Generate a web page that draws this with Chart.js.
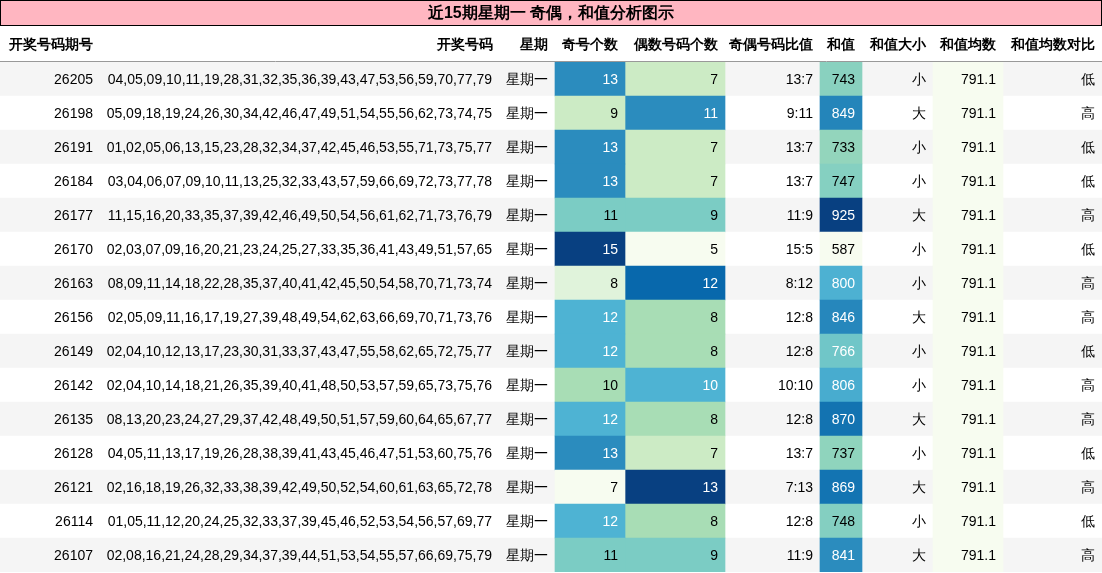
<!DOCTYPE html>
<html><head><meta charset="utf-8">
<script src="https://cdn.jsdelivr.net/npm/chart.js@4"></script>
<style>html,body{margin:0;padding:0;background:#fff}#w{width:1102px;height:573px}</style>
</head><body><div id="w"><canvas id="c"></canvas></div>
<script>
const title = "近15期星期一 奇偶，和值分析图示";
const headers = ["开奖号码期号","开奖号码","星期","奇号个数","偶数号码个数","奇偶号码比值","和值","和值大小","和值均数","和值均数对比"];
const colEdges = [0,100,500,555,625,725,820,862,933,1003,1102];
const periods = ["26205","26198","26191","26184","26177","26170","26163","26156","26149","26142","26135","26128","26121","26114","26107"];
const numbers = [
"04,05,09,10,11,19,28,31,32,35,36,39,43,47,53,56,59,70,77,79",
"05,09,18,19,24,26,30,34,42,46,47,49,51,54,55,56,62,73,74,75",
"01,02,05,06,13,15,23,28,32,34,37,42,45,46,53,55,71,73,75,77",
"03,04,06,07,09,10,11,13,25,32,33,43,57,59,66,69,72,73,77,78",
"11,15,16,20,33,35,37,39,42,46,49,50,54,56,61,62,71,73,76,79",
"02,03,07,09,16,20,21,23,24,25,27,33,35,36,41,43,49,51,57,65",
"08,09,11,14,18,22,28,35,37,40,41,42,45,50,54,58,70,71,73,74",
"02,05,09,11,16,17,19,27,39,48,49,54,62,63,66,69,70,71,73,76",
"02,04,10,12,13,17,23,30,31,33,37,43,47,55,58,62,65,72,75,77",
"02,04,10,14,18,21,26,35,39,40,41,48,50,53,57,59,65,73,75,76",
"08,13,20,23,24,27,29,37,42,48,49,50,51,57,59,60,64,65,67,77",
"04,05,11,13,17,19,26,28,38,39,41,43,45,46,47,51,53,60,75,76",
"02,16,18,19,26,32,33,38,39,42,49,50,52,54,60,61,63,65,72,78",
"01,05,11,12,20,24,25,32,33,37,39,45,46,52,53,54,56,57,69,77",
"02,08,16,21,24,28,29,34,37,39,44,51,53,54,55,57,66,69,75,79"];
const weekday = "星期一";
const oddCounts = [13,9,13,13,11,15,8,12,12,10,12,13,7,12,11];
const evenCounts = [7,11,7,7,9,5,12,8,8,10,8,7,13,8,9];
const sums = [743,849,733,747,925,587,800,846,766,806,870,737,869,748,841];
const sizes = ["小","大","小","小","大","小","小","大","小","小","大","小","大","小","大"];
const avg = 791.1;
const compare = ["低","高","低","低","高","低","高","高","低","高","高","低","高","低","高"];

const GnBu = ["#f7fcf0","#e0f3db","#ccebc5","#a8ddb5","#7bccc4","#4eb3d3","#2b8cbe","#0868ac","#084081"];
function hex(h){return [1,3,5].map(i=>parseInt(h.substr(i,2),16));}
function cmap(t){t=Math.max(0,Math.min(1,t));const p=t*(GnBu.length-1),i=Math.min(Math.floor(p),GnBu.length-2),f=p-i;
 const a=hex(GnBu[i]),b=hex(GnBu[i+1]);return `rgb(${a.map((v,k)=>Math.round(v+(b[k]-v)*f)).join(',')})`;}
function norm(arr){const mn=Math.min(...arr),mx=Math.max(...arr);return arr.map(v=>(v-mn)/(mx-mn));}
const tOdd=norm(oddCounts),tEven=norm(evenCounts),tSum=norm(sums);

const span=(i)=>periods.map(()=>[colEdges[i],colEdges[i+1]]);
const ds=(data,colors,order)=>({data,backgroundColor:colors,borderWidth:0,grouped:false,barPercentage:1,categoryPercentage:1,order});
const datasets=[
 ds(span(3),tOdd.map(cmap),1),
 ds(span(4),tEven.map(cmap),1),
 ds(span(6),tSum.map(cmap),1),
 ds(span(8),periods.map(()=>"#f7fcf0"),1),
 ds(periods.map(()=>[0,1102]),periods.map((_,i)=>i%2===0?"#f5f5f5":"#ffffff"),2)
];

const textPlugin={id:'txt',afterDatasetsDraw(chart){
 const ctx=chart.ctx,y=chart.scales.y,x=chart.scales.x;
 ctx.save();
 ctx.fillStyle="#ffb6c1";ctx.fillRect(0.5,0.5,1101,25);
 ctx.strokeStyle="#000";ctx.lineWidth=1;ctx.strokeRect(0.5,0.5,1101,25);
 ctx.fillStyle="#000";ctx.font="bold 16px 'Liberation Sans',Arial,sans-serif";ctx.textAlign="center";ctx.textBaseline="middle";
 ctx.fillText(title,551,14);
 ctx.font="bold 14px 'Liberation Sans',Arial,sans-serif";ctx.textAlign="right";
 headers.forEach((h,i)=>ctx.fillText(h,x.getPixelForValue(colEdges[i+1])-7,45));
 ctx.strokeStyle="#999";ctx.beginPath();ctx.moveTo(0,61.5);ctx.lineTo(1102,61.5);ctx.stroke();
 ctx.font="14px 'Liberation Sans',Arial,sans-serif";
 periods.forEach((p,r)=>{
  const yy=y.getPixelForValue(r)+1;
  const cells=[p,numbers[r],weekday,String(oddCounts[r]),String(evenCounts[r]),oddCounts[r]+":"+evenCounts[r],String(sums[r]),sizes[r],avg.toFixed(1),compare[r]];
  const ts={3:tOdd[r],4:tEven[r],6:tSum[r]};
  cells.forEach((c,i)=>{ctx.fillStyle=(ts[i]!==undefined&&ts[i]>0.5)?"#fff":"#000";
   ctx.fillText(c,x.getPixelForValue(colEdges[i+1])-(i===1?8:7),yy);});
 });
 ctx.restore();
}};

new Chart(document.getElementById('c'),{type:'bar',data:{labels:periods,datasets},
 options:{indexAxis:'y',responsive:true,maintainAspectRatio:false,animation:false,
  layout:{padding:{top:62,left:0,right:0,bottom:1}},
  plugins:{legend:{display:false},tooltip:{enabled:false}},
  scales:{x:{type:'linear',min:0,max:1102,display:false},y:{display:false}}},
 plugins:[textPlugin]});
</script></body></html>
